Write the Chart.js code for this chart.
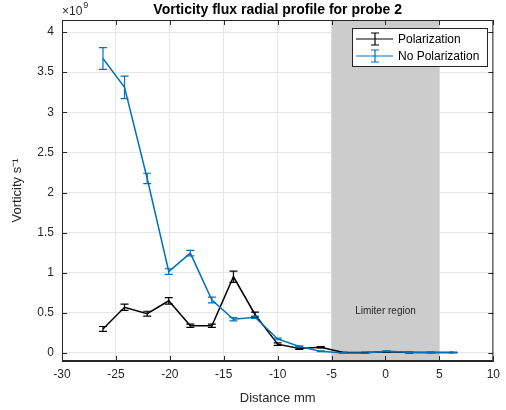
<!DOCTYPE html>
<html lang="en">
<head>
  <meta charset="UTF-8">
  <title>Vorticity flux radial profile</title>
  <style>
    body { margin: 0; background: #fff; }
    #wrap { width: 506px; height: 410px; }
  </style>
</head>
<body>
<div id="wrap"><canvas id="myChart" width="506" height="410"></canvas></div>

<script src="https://cdn.jsdelivr.net/npm/chart.js"></script>
<script>
  // values (y in units of 1e9)
  var distance = [-26.2, -24.2, -22.1, -20.1, -18.1, -16.1, -14.1, -12.1, -10.0, -8.0, -6.0, -3.9, -1.9, 0.1, 2.2, 4.2, 6.3];
  var polY   = [0.30, 0.57, 0.49, 0.65, 0.34, 0.34, 0.95, 0.48, 0.11, 0.055, 0.07, 0.005, 0.005, 0.015, 0.005, 0.005, 0.005];
  var polErr = [0.03, 0.04, 0.03, 0.04, 0.02, 0.02, 0.07, 0.03, 0.015, 0.01, 0.008, 0.004, 0.003, 0.004, 0.003, 0.002, 0.002];
  var noPolY   = [3.67, 3.31, 2.175, 1.015, 1.245, 0.66, 0.42, 0.445, 0.175, 0.08, 0.02, 0.0, 0.0, 0.02, 0.01, 0.005, 0.005];
  var noPolErr = [0.135, 0.14, 0.065, 0.035, 0.035, 0.035, 0.02, 0.015, 0.01, 0.008, 0.005, 0.004, 0.003, 0.004, 0.003, 0.002, 0.002];
  var xTicks = [-30, -25, -20, -15, -10, -5, 0, 5, 10];
  var yTicks = [0, 0.5, 1, 1.5, 2, 2.5, 3, 3.5, 4];
  var limiter = [-5, 5];

  var FONT = '"Liberation Sans", Arial, sans-serif';
  var BLUE = '#0072BD';
  var AXIS = '#262626';

  function pts(ys, errs) {
    var out = [];
    for (var i = 0; i < distance.length; i++) out.push({ x: distance[i], y: ys[i], err: errs[i] });
    return out;
  }

  var matlabPlugin = {
    id: 'matlab',
    beforeDatasetsDraw: function (chart) {
      var c = chart.ctx, a = chart.chartArea, xs = chart.scales.x;
      c.save();
      c.fillStyle = '#cccccc';
      var x0 = xs.getPixelForValue(limiter[0]), x1 = xs.getPixelForValue(limiter[1]);
      c.fillRect(x0, a.top, x1 - x0, a.bottom - a.top);
      c.fillStyle = '#262626';
      c.font = '10px ' + FONT;
      c.textAlign = 'center';
      c.textBaseline = 'middle';
      c.fillText('Limiter region', xs.getPixelForValue(0), chart.scales.y.getPixelForValue(0.52));
      c.restore();
    },
    afterDatasetsDraw: function (chart) {
      var c = chart.ctx, a = chart.chartArea, xs = chart.scales.x, ys = chart.scales.y;
      c.save();
      // error bars, drawn last dataset first so index 0 stays on top
      for (var d = chart.data.datasets.length - 1; d >= 0; d--) {
        var ds = chart.data.datasets[d];
        c.strokeStyle = ds.borderColor;
        c.lineWidth = 1.2;
        ds.data.forEach(function (p) {
          var px = xs.getPixelForValue(p.x);
          var top = ys.getPixelForValue(p.y + p.err), bot = ys.getPixelForValue(p.y - p.err);
          c.beginPath();
          c.moveTo(px, top); c.lineTo(px, bot);
          c.moveTo(px - 4, top); c.lineTo(px + 4, top);
          c.moveTo(px - 4, bot); c.lineTo(px + 4, bot);
          c.stroke();
        });
      }
      // box and inward ticks
      c.strokeStyle = AXIS;
      c.lineWidth = 1;
      c.beginPath();
      c.rect(a.left + 0.5, a.top + 0.5, a.right - a.left - 1, a.bottom - a.top - 1);
      xTicks.forEach(function (v) {
        var px = Math.round(xs.getPixelForValue(v)) + 0.5;
        c.moveTo(px, a.bottom); c.lineTo(px, a.bottom - 5);
        c.moveTo(px, a.top); c.lineTo(px, a.top + 5);
      });
      yTicks.forEach(function (v) {
        var py = Math.round(ys.getPixelForValue(v)) + 0.5;
        c.moveTo(a.left, py); c.lineTo(a.left + 5, py);
        c.moveTo(a.right, py); c.lineTo(a.right - 5, py);
      });
      c.stroke();

      // legend
      var lx = 352, ly = 28, lw = 135, lh = 38;
      c.fillStyle = '#fff';
      c.fillRect(lx, ly, lw, lh);
      c.strokeStyle = '#262626';
      c.strokeRect(lx + 0.5, ly + 0.5, lw, lh);
      var entries = [['Polarization', '#000000', ly + 11], ['No Polarization', BLUE, ly + 28]];
      entries.forEach(function (e) {
        c.strokeStyle = e[1];
        c.lineWidth = 1.2;
        c.beginPath();
        c.moveTo(lx + 4, e[2]); c.lineTo(lx + 41, e[2]);
        c.moveTo(lx + 23, e[2] - 6); c.lineTo(lx + 23, e[2] + 6);
        c.moveTo(lx + 19, e[2] - 6); c.lineTo(lx + 27, e[2] - 6);
        c.moveTo(lx + 19, e[2] + 6); c.lineTo(lx + 27, e[2] + 6);
        c.stroke();
        c.fillStyle = '#000';
        c.font = '12px ' + FONT;
        c.textAlign = 'left';
        c.textBaseline = 'middle';
        c.fillText(e[0], lx + 46, e[2] + 1);
      });

      // title and exponent
      c.fillStyle = '#000';
      c.font = 'bold 14px ' + FONT;
      c.textAlign = 'center';
      c.textBaseline = 'middle';
      c.fillText('Vorticity flux radial profile for probe 2', (a.left + a.right) / 2, 10);
      c.fillStyle = '#262626';
      c.font = '12px ' + FONT;
      c.textAlign = 'left';
      var base = '\u00d710';
      c.fillText(base, a.left, 12);
      var w = c.measureText(base).width;
      c.font = '9px ' + FONT;
      c.fillText('9', a.left + w + 1, 6);
      c.restore();
    }
  };

  var ctx = document.getElementById('myChart');
  var chart = new Chart(ctx, {
    type: 'scatter',
    data: {
      datasets: [{
        label: 'No Polarization',
        data: pts(noPolY, noPolErr),
        borderColor: BLUE,
        backgroundColor: BLUE,
        borderWidth: 1.5,
        showLine: true,
        pointRadius: 0
      },
      {
        label: 'Polarization',
        data: pts(polY, polErr),
        borderColor: '#000000',
        backgroundColor: '#000000',
        borderWidth: 1.5,
        showLine: true,
        pointRadius: 0
      }]
    },
    plugins: [matlabPlugin],
    options: {
      responsive: false,
      animation: false,
      layout: { padding: { left: 0, right: 12, top: 20, bottom: 0 } },
      plugins: { legend: { display: false }, tooltip: { enabled: false } },
      scales: {
        x: {
          type: 'linear',
          min: -30, max: 10,
          afterBuildTicks: function (s) { s.ticks = xTicks.map(function (v) { return { value: v }; }); },
          afterFit: function (s) { s.height = 49; },
          grid: { color: '#e6e6e6', drawTicks: false },
          border: { color: AXIS },
          ticks: { color: AXIS, padding: 6, font: { family: FONT, size: 12 }, maxRotation: 0,
                   callback: function (v) { return String(v); } },
          title: { display: true, text: 'Distance mm', color: AXIS, padding: { top: 2 }, font: { family: FONT, size: 13 } }
        },
        y: {
          type: 'linear',
          min: -0.1, max: 4.15,
          afterBuildTicks: function (s) { s.ticks = yTicks.map(function (v) { return { value: v }; }); },
          afterFit: function (s) { s.width = 62; },
          grid: { color: '#e6e6e6', drawTicks: false },
          border: { color: AXIS },
          ticks: { color: AXIS, padding: 8, font: { family: FONT, size: 12 },
                   callback: function (v) { return String(v); } },
          title: { display: true, text: 'Vorticity s\u207b\u00b9', color: AXIS, padding: { top: 10, bottom: 4 }, font: { family: FONT, size: 13 } }
        }
      }
    }
  });
</script>
</body>
</html>
